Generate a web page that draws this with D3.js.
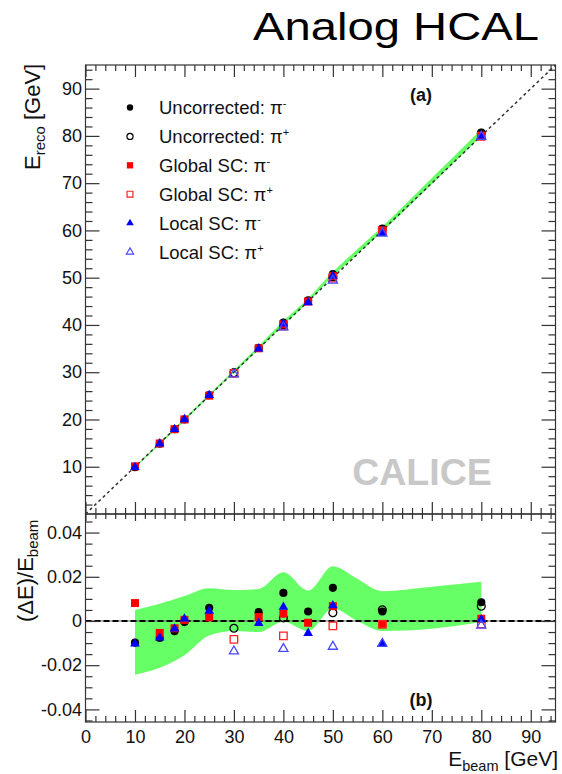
<!DOCTYPE html>
<html>
<head>
<meta charset="utf-8">
<script src="https://cdn.jsdelivr.net/npm/d3@7"></script>
<style>
  html, body { margin: 0; padding: 0; background: #fff; }
  svg { display: block; font-family: "Liberation Sans", Arial, Helvetica, sans-serif; }
</style>
</head>
<body>
<svg id="chart" width="562" height="774"></svg>
<script>
// Beam energies (GeV)
const energiesMinus = [10, 15, 18, 20, 25, 35, 40, 45, 50, 60, 80];
const energiesPlus  = [30, 40, 50, 60, 80];

// Reconstructed energy (GeV), panel (a)
const recoUncorrMinus  = [9.90, 14.88, 17.92, 19.99, 25.15, 35.14, 40.51, 45.19, 50.75, 60.26, 80.68];
const recoUncorrPlus   = [29.90, 40.06, 50.19, 60.31, 80.54];
const recoGlobalMinus  = [10.08, 14.92, 17.94, 20.01, 25.04, 35.06, 40.13, 44.96, 50.34, 59.92, 80.08];
const recoGlobalPlus   = [29.75, 39.73, 49.89, 59.91, 79.90];
const recoLocalMinus   = [9.90, 14.89, 17.94, 20.02, 25.11, 34.97, 40.25, 44.75, 50.35, 59.39, 80.06];
const recoLocalPlus    = [29.59, 39.50, 49.42, 59.38, 79.84];

// Relative residual (E_reco - E_beam)/E_beam, panel (b)
const resUncorrMinus  = [-0.0098, -0.0077, -0.0046, -0.0005, 0.0060, 0.0040, 0.0127, 0.0043, 0.0150, 0.0043, 0.0085];
const resUncorrPlus   = [-0.0033, 0.0014, 0.0037, 0.0051, 0.0067];
const resGlobalMinus  = [0.0081, -0.0054, -0.0033, 0.0005, 0.0017, 0.0018, 0.0033, -0.0008, 0.0067, -0.0013, 0.0010];
const resGlobalPlus   = [-0.0083, -0.0067, -0.0022, -0.0015, -0.0013];
const resLocalMinus   = [-0.0103, -0.0076, -0.0035, 0.0010, 0.0045, -0.0010, 0.0063, -0.0055, 0.0070, -0.0101, 0.0007];
const resLocalPlus    = [-0.0137, -0.0126, -0.0116, -0.0103, -0.0020];

// Systematic uncertainty band
const bandEnergies   = [10, 15, 20, 25, 30, 35, 40, 45, 50, 55, 60, 70, 80];
const bandResUpper   = [0.0050, 0.0078, 0.0113, 0.0148, 0.0140, 0.0145, 0.0220, 0.0138, 0.0248, 0.0190, 0.0135, 0.0155, 0.0177];
const bandResLower   = [-0.0243, -0.0212, -0.0155, -0.0066, -0.0045, -0.0050, -0.0003, -0.0045, 0.0057, 0.0000, -0.0045, -0.0035, -0.0005];
const bandRecoUpper  = [10.05, 15.12, 20.23, 25.37, 30.42, 35.51, 40.88, 45.62, 51.24, 56.05, 60.81, 71.09, 81.42];
const bandRecoLower  = [9.76, 14.68, 19.69, 24.84, 29.87, 34.83, 39.99, 44.80, 50.29, 55.00, 59.73, 69.76, 79.96];

// Axis ticks
const xMajor = [0, 10, 20, 30, 40, 50, 60, 70, 80, 90];
const xMinor = d3.range(0, 95, 2).filter(v => v % 10 !== 0);
const yTopMajor = [10, 20, 30, 40, 50, 60, 70, 80, 90];
const yTopMinor = d3.range(0, 95, 2).filter(v => v % 10 !== 0);
const yBotMajor = [-0.04, -0.02, 0, 0.02, 0.04];
const yBotMinor = [-0.045, -0.035, -0.03, -0.025, -0.015, -0.01, -0.005, 0.005, 0.01, 0.015, 0.025, 0.03, 0.035, 0.045];

// Legend entries
const legendEntries = [
  { label: "Uncorrected: π", sup: "-", style: "blackFilled" },
  { label: "Uncorrected: π", sup: "+", style: "blackOpen" },
  { label: "Global SC: π",   sup: "-", style: "redFilled" },
  { label: "Global SC: π",   sup: "+", style: "redOpen" },
  { label: "Local SC: π",    sup: "-", style: "blueFilled" },
  { label: "Local SC: π",    sup: "+", style: "blueOpen" }
];

const styles = {
  blackFilled: { shape: d3.symbolCircle,   fill: "#000",    stroke: "none",    size: 52 },
  blackOpen:   { shape: d3.symbolCircle,   fill: "none",    stroke: "#000",    size: 48 },
  redFilled:   { shape: d3.symbolSquare,   fill: "#ff0000", stroke: "none",    size: 64 },
  redOpen:     { shape: d3.symbolSquare,   fill: "none",    stroke: "#ff2020", size: 56 },
  blueFilled:  { shape: d3.symbolTriangle, fill: "#0000ff", stroke: "none",    size: 40 },
  blueOpen:    { shape: d3.symbolTriangle, fill: "none",    stroke: "#4848ff", size: 36 }
};

const svg = d3.select("#chart");
const x = d3.scaleLinear().domain([0, 95]).range([85.5, 555.5]);
const yTop = d3.scaleLinear().domain([0, 95]).range([514, 65]);
const yBot = d3.scaleLinear().domain([-0.0457, 0.0484]).range([722, 514]);

const left = x.range()[0], right = x.range()[1];
const green = "#66ff66";
const axisColor = "#333";

function markers(g, xs, ys, yScale, styleKey) {
  const s = styles[styleKey];
  g.selectAll(null)
    .data(xs.map((e, i) => [e, ys[i]]))
    .enter().append("path")
    .attr("transform", d => `translate(${x(d[0])},${yScale(d[1])})`)
    .attr("d", d3.symbol(s.shape, s.size)())
    .attr("fill", s.fill)
    .attr("stroke", s.stroke)
    .attr("stroke-width", 1.3);
}

function styleAxis(g) {
  g.select(".domain").remove();
  g.selectAll("line").attr("stroke", axisColor).attr("stroke-width", 1.2);
  g.selectAll("text").attr("fill", "#111").attr("font-size", 18)
    .attr("font-family", "Liberation Sans, Arial, sans-serif");
}

function axis(gen, scale, values, len, fmt, pad) {
  return gen(scale).tickValues(values).tickSizeInner(len).tickSizeOuter(0)
    .tickPadding(pad || 4).tickFormat(fmt || (() => ""));
}

// ---------- Panel (a): reconstructed vs beam energy ----------
const gA = svg.append("g");
gA.append("path")
  .datum(bandEnergies.map((e, i) => [e, bandRecoLower[i], bandRecoUpper[i]]))
  .attr("fill", green)
  .attr("d", d3.area().x(d => x(d[0])).y0(d => yTop(d[1])).y1(d => yTop(d[2])).curve(d3.curveMonotoneX));

gA.append("line")
  .attr("x1", x(0)).attr("y1", yTop(0)).attr("x2", x(95)).attr("y2", yTop(95))
  .attr("stroke", "#333").attr("stroke-width", 1.5).attr("stroke-dasharray", "3,3");

markers(gA, energiesMinus, recoUncorrMinus, yTop, "blackFilled");
markers(gA, energiesPlus, recoUncorrPlus, yTop, "blackOpen");
markers(gA, energiesMinus, recoGlobalMinus, yTop, "redFilled");
markers(gA, energiesPlus, recoGlobalPlus, yTop, "redOpen");
markers(gA, energiesMinus, recoLocalMinus, yTop, "blueFilled");
markers(gA, energiesPlus, recoLocalPlus, yTop, "blueOpen");

// axes of panel (a), ticks pointing inwards
gA.append("g").attr("transform", `translate(${left},0)`)
  .call(axis(d3.axisLeft, yTop, yTopMajor, -14, d3.format("d"), 3.5)).call(styleAxis);
gA.append("g").attr("transform", `translate(${left},0)`)
  .call(axis(d3.axisLeft, yTop, yTopMinor, -7)).call(styleAxis);
gA.append("g").attr("transform", `translate(${right},0)`)
  .call(axis(d3.axisRight, yTop, yTopMajor, -14)).call(styleAxis);
gA.append("g").attr("transform", `translate(${right},0)`)
  .call(axis(d3.axisRight, yTop, yTopMinor, -7)).call(styleAxis);
gA.append("g").attr("transform", `translate(0,${yTop(95)})`)
  .call(axis(d3.axisTop, x, xMajor, -12)).call(styleAxis);
gA.append("g").attr("transform", `translate(0,${yTop(95)})`)
  .call(axis(d3.axisTop, x, xMinor, -6)).call(styleAxis);
gA.append("g").attr("transform", `translate(0,${yTop(0)})`)
  .call(axis(d3.axisBottom, x, xMajor, -12)).call(styleAxis);
gA.append("g").attr("transform", `translate(0,${yTop(0)})`)
  .call(axis(d3.axisBottom, x, xMinor, -6)).call(styleAxis);
gA.append("rect")
  .attr("x", left).attr("y", yTop(95)).attr("width", right - left).attr("height", yTop(0) - yTop(95))
  .attr("fill", "none").attr("stroke", axisColor).attr("stroke-width", 1.2);

// legend
const leg = gA.append("g");
legendEntries.forEach((d, i) => {
  const yy = 107.5 + i * 28.9;
  const s = styles[d.style];
  leg.append("path")
    .attr("transform", `translate(130,${yy})`)
    .attr("d", d3.symbol(s.shape, s.size * 0.62)())
    .attr("fill", s.fill).attr("stroke", s.stroke).attr("stroke-width", 1.2);
  const t = leg.append("text").attr("x", 159).attr("y", yy + 6.5)
    .attr("font-size", 18.5).attr("fill", "#111").text(d.label);
  t.append("tspan").attr("font-size", 11).attr("dy", -7).text(d.sup);
});

gA.append("text").attr("x", 421).attr("y", 101).attr("text-anchor", "middle")
  .attr("font-size", 18).attr("font-weight", "bold").attr("fill", "#111").text("(a)");

gA.append("text").attr("x", 422).attr("y", 485).attr("text-anchor", "middle")
  .attr("font-size", 37.5).attr("font-weight", "bold").attr("fill", "#c8c8c8").text("CALICE");

// y title (a)
const tA = gA.append("text").attr("transform", "translate(40,170) rotate(-90)")
  .attr("font-size", 22).attr("fill", "#111");
tA.append("tspan").text("E");
tA.append("tspan").attr("font-size", 15).attr("dy", 5).text("reco");
tA.append("tspan").attr("dy", -5).text(" [GeV]");

// ---------- Panel (b): relative residuals ----------
const gB = svg.append("g");
gB.append("path")
  .datum(bandEnergies.map((e, i) => [e, bandResLower[i], bandResUpper[i]]))
  .attr("fill", green)
  .attr("d", d3.area().x(d => x(d[0])).y0(d => yBot(d[1])).y1(d => yBot(d[2])).curve(d3.curveMonotoneX));

gB.append("line")
  .attr("x1", left).attr("x2", right).attr("y1", yBot(0)).attr("y2", yBot(0))
  .attr("stroke", "#666").attr("stroke-width", 1);
gB.append("line")
  .attr("x1", left).attr("x2", right).attr("y1", yBot(0)).attr("y2", yBot(0))
  .attr("stroke", "#000").attr("stroke-width", 2).attr("stroke-dasharray", "6,3");

markers(gB, energiesMinus, resUncorrMinus, yBot, "blackFilled");
markers(gB, energiesPlus, resUncorrPlus, yBot, "blackOpen");
markers(gB, energiesMinus, resGlobalMinus, yBot, "redFilled");
markers(gB, energiesPlus, resGlobalPlus, yBot, "redOpen");
markers(gB, energiesMinus, resLocalMinus, yBot, "blueFilled");
markers(gB, energiesPlus, resLocalPlus, yBot, "blueOpen");

const fmtRes = d => d === 0 ? "0" : d3.format(".2f")(d).replace("−", "-");
gB.append("g").attr("transform", `translate(${left},0)`)
  .call(axis(d3.axisLeft, yBot, yBotMajor, -14, fmtRes, 3.5)).call(styleAxis);
gB.append("g").attr("transform", `translate(${left},0)`)
  .call(axis(d3.axisLeft, yBot, yBotMinor, -7)).call(styleAxis);
gB.append("g").attr("transform", `translate(${right},0)`)
  .call(axis(d3.axisRight, yBot, yBotMajor, -14)).call(styleAxis);
gB.append("g").attr("transform", `translate(${right},0)`)
  .call(axis(d3.axisRight, yBot, yBotMinor, -7)).call(styleAxis);
gB.append("g").attr("transform", `translate(0,${yBot.range()[1]})`)
  .call(axis(d3.axisTop, x, xMajor, -7)).call(styleAxis);
gB.append("g").attr("transform", `translate(0,${yBot.range()[1]})`)
  .call(axis(d3.axisTop, x, xMinor, -5)).call(styleAxis);
gB.append("g").attr("transform", `translate(0,${yBot.range()[0]})`)
  .call(axis(d3.axisBottom, x, xMajor, -12, d3.format("d"), 8)).call(styleAxis);
gB.append("g").attr("transform", `translate(0,${yBot.range()[0]})`)
  .call(axis(d3.axisBottom, x, xMinor, -6)).call(styleAxis);
gB.append("rect")
  .attr("x", left).attr("y", yBot.range()[1]).attr("width", right - left)
  .attr("height", yBot.range()[0] - yBot.range()[1])
  .attr("fill", "none").attr("stroke", axisColor).attr("stroke-width", 1.2);

gB.append("text").attr("x", 421).attr("y", 706).attr("text-anchor", "middle")
  .attr("font-size", 18).attr("font-weight", "bold").attr("fill", "#111").text("(b)");

// y title (b)
const tB = gB.append("text").attr("transform", "translate(33,622) rotate(-90)")
  .attr("font-size", 22).attr("fill", "#111");
tB.append("tspan").text("(ΔE)/E");
tB.append("tspan").attr("font-size", 15).attr("dy", 5).text("beam");

// x title
const tX = svg.append("text").attr("x", 558).attr("y", 766).attr("text-anchor", "end")
  .attr("font-size", 21).attr("fill", "#111");
tX.append("tspan").text("E");
tX.append("tspan").attr("font-size", 14.5).attr("dy", 5).text("beam");
tX.append("tspan").attr("dy", -5).text(" [GeV]");

// heading
svg.append("text").attr("x", 253).attr("y", 40)
  .attr("font-size", 39).attr("fill", "#000")
  .attr("textLength", 286).attr("lengthAdjust", "spacingAndGlyphs")
  .text("Analog HCAL");
</script>
</body>
</html>
